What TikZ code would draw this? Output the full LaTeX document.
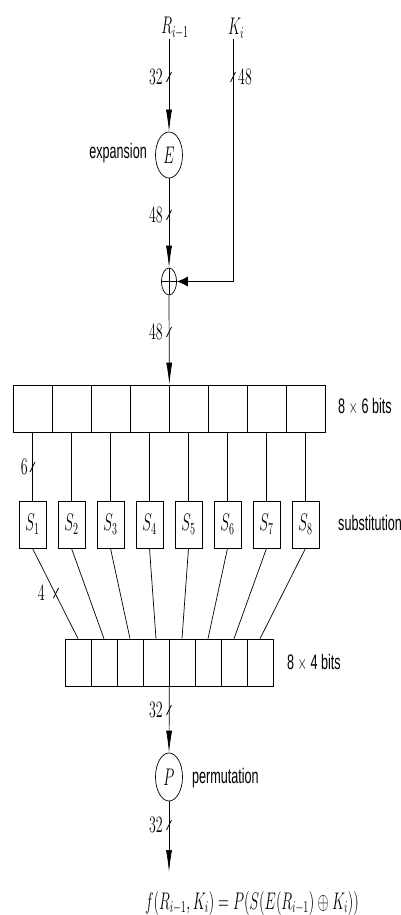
\documentclass[tikz,border=0pt]{standalone}
\usepackage{fontspec}
\usepackage{graphicx}
\newfontfamily\hv{Liberation Sans}
\usetikzlibrary{arrows.meta,shapes.geometric}
\newcommand\vs[1]{\scalebox{1}[1.67]{#1}}
\newcommand\tk[1]{\draw[ln] (#1) ++(-2.5,5) -- ++(5,-10);}
\tikzset{
  ln/.style={line width=0.7pt},
  varr/.style={ln,-{Latex[length=22pt,width=6pt]}},
  harr/.style={ln,-{Latex[length=11pt,width=10pt]}},
  num/.style={inner sep=1pt,font=\fontsize{14}{16}\selectfont},
  sans/.style={inner sep=1pt,font=\fontsize{12.6}{14}\selectfont\hv},
  cell/.style={draw,ln,rectangle,inner sep=0pt,minimum width=39pt,minimum height=47pt},
  bcell/.style={draw,ln,rectangle,inner sep=0pt,minimum width=26pt,minimum height=47pt},
  sbox/.style={draw,ln,rectangle,inner sep=0pt,minimum width=27pt,minimum height=47pt,font=\fontsize{14}{16}\selectfont},
  oval/.style={draw,ln,ellipse,inner sep=0pt,font=\fontsize{14}{16}\selectfont}
}
\begin{document}
\begin{tikzpicture}[x=1pt,y=-1pt]
\useasboundingbox (0,0) rectangle (401,915);
% inputs
\node[num] (R) at (175,28) {\vs{$R_{i-1}$}};
\node[num] (K) at (236,28) {\vs{$K_i$}};
\coordinate (rtop) at (169,39);
\coordinate (ktop) at (233,39);
% expansion
\node[oval,minimum width=27pt,minimum height=46pt] (E) at (169,155) {\vs{$E$}};
\node[sans,anchor=east] (expl) at (148,153) {\vs{expansion}};
\draw[varr] (rtop) -- (E.north);
% xor
\node[draw,ln,ellipse,inner sep=0pt,minimum width=15pt,minimum height=27pt] (X) at (169,281.5) {};
\draw[ln] (X.north) -- (X.south) (X.west) -- (X.east);
\draw[varr] (E.south) -- (X.north);
\coordinate (kc) at (233,281.5);
\draw[ln] (ktop) -- (kc);
\draw[harr] (kc) -- (X.east);
% registers and S-boxes
\foreach \i in {1,...,8} {
  \node[cell] (t\i) at ({32.5+39*(\i-1)},408.5) {};
  \node[sbox] (s\i) at ({32.5+39*(\i-1)},524.5) {\vs{$S_{\i}$}};
  \node[bcell] (b\i) at ({78+26*(\i-1)},662.5) {};
}
\foreach \i in {1,...,8} {
  \draw[ln] (t\i.south) -- (s\i.north);
  \draw[ln] (s\i.south) -- (b\i.north);
}
\draw[varr] (X.south) -- (t4.north east);
\node[sans,anchor=west] (l86) at (337,407) {\vs{8 $\times$ 6 bits}};
\node[sans,anchor=west] (lsub) at (337,523) {\vs{substitution}};
\node[sans,anchor=west] (l84) at (286,663) {\vs{8 $\times$ 4 bits}};
% permutation
\node[oval,minimum width=27pt,minimum height=48pt] (P) at (169,777) {\vs{$P$}};
\node[sans,anchor=west] (lperm) at (191,778) {\vs{permutation}};
\draw[varr] (b4.south east) -- (P.north);
\coordinate (out) at (169,872);
\draw[varr] (P.south) -- (out);
\node[num,font=\fontsize{14.8}{17}\selectfont] (f) at (252,903) {\vs{$f(R_{i-1},K_i)=P(S(E(R_{i-1})\oplus K_i))$}};
% bit-width ticks
\tk{169,77} \node[num,anchor=east] (n1) at (164,77) {\vs{32}};
\tk{233,77} \node[num,anchor=west] (n2) at (237,77) {\vs{48}};
\tk{169,215} \node[num,anchor=east] (n3) at (164,215) {\vs{48}};
\tk{169,332} \node[num,anchor=east] (n4) at (164,332) {\vs{48}};
\tk{32.5,467} \node[num,anchor=east] (n5) at (29,467) {\vs{6}};
\tk{56,593} \node[num,anchor=east] (n6) at (46,593) {\vs{4}};
\tk{169,710} \node[num,anchor=east] (n7) at (164,710) {\vs{32}};
\tk{169,825} \node[num,anchor=east] (n8) at (164,825) {\vs{32}};
\end{tikzpicture}
\end{document}
